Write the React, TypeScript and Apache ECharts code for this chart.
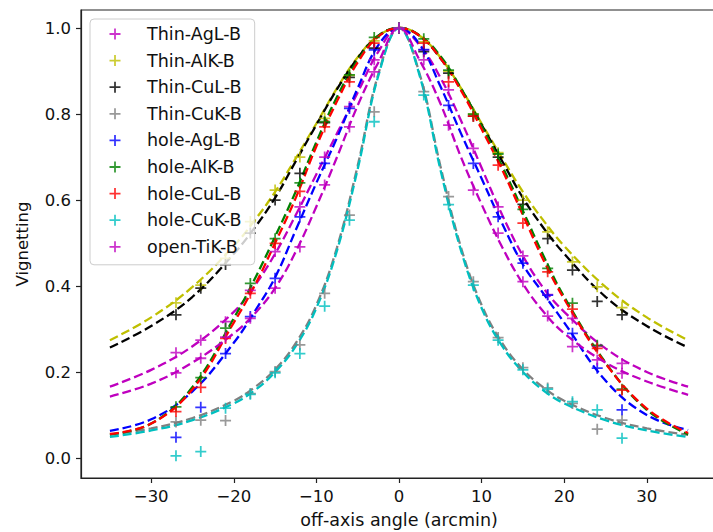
import React, { useEffect, useRef } from "react";
import * as echarts from "echarts";

// ---- data ----
const seriesNames = [
  "Thin-AgL-B",
  "Thin-AlK-B",
  "Thin-CuL-B",
  "Thin-CuK-B",
  "hole-AgL-B",
  "hole-AlK-B",
  "hole-CuL-B",
  "hole-CuK-B",
  "open-TiK-B",
];
const seriesColors = [
  "#bf00bf",
  "#bfbf00",
  "#000000",
  "#808080",
  "#0000ff",
  "#008000",
  "#ff0000",
  "#00bfbf",
  "#bf00bf",
];

// measured points (off-axis angle, arcmin)
const pointX = [-27, -24, -21, -18, -15, -12, -9, -6, -3, 0, 3, 6, 9, 12, 15, 18, 21, 24, 27];
const thinAgLPts = [0.245, 0.274, 0.317, 0.39, 0.48, 0.584, 0.7, 0.817, 0.926, 1.0, 0.949, 0.856, 0.72, 0.584, 0.47, 0.38, 0.325, 0.26, 0.22];
const thinAlKPts = [0.361, 0.402, 0.464, 0.55, 0.623, 0.7, 0.79, 0.89, 0.97, 1.0, 0.968, 0.9, 0.8, 0.71, 0.6, 0.526, 0.456, 0.398, 0.35];
const thinCuLPts = [0.333, 0.395, 0.45, 0.523, 0.6, 0.662, 0.78, 0.885, 0.953, 1.0, 0.945, 0.895, 0.795, 0.7, 0.59, 0.51, 0.437, 0.364, 0.333];
const thinCuKPts = [0.084, 0.088, 0.087, 0.15, 0.201, 0.263, 0.383, 0.565, 0.805, 1.0, 0.852, 0.608, 0.41, 0.28, 0.21, 0.163, 0.127, 0.067, 0.088];
const holeAgLPts = [0.048, 0.118, 0.243, 0.329, 0.418, 0.561, 0.685, 0.813, 0.949, 1.0, 0.95, 0.82, 0.685, 0.561, 0.453, 0.379, 0.29, 0.209, 0.112];
const holeAlKPts = [0.119, 0.187, 0.302, 0.406, 0.51, 0.64, 0.782, 0.891, 0.978, 1.0, 0.975, 0.902, 0.8, 0.707, 0.578, 0.441, 0.36, 0.262, 0.16];
const holeCuLPts = [0.108, 0.164, 0.278, 0.383, 0.499, 0.62, 0.77, 0.875, 0.965, 1.0, 0.965, 0.875, 0.795, 0.681, 0.546, 0.433, 0.346, 0.255, 0.158];
const holeCuKPts = [0.005, 0.015, 0.116, 0.148, 0.198, 0.243, 0.353, 0.553, 0.782, 1.0, 0.844, 0.589, 0.402, 0.274, 0.205, 0.16, 0.131, 0.112, 0.046];
const openTiKPts = [0.198, 0.232, 0.281, 0.325, 0.395, 0.491, 0.635, 0.77, 0.898, 1.0, 0.926, 0.774, 0.623, 0.523, 0.41, 0.33, 0.259, 0.228, 0.197];

// fitted curves (dashed)
const fitX = [-35, -30, -25, -20, -17.5, -15, -12.5, -10, -7.5, -5, -2.5, 0, 2.5, 5, 7.5, 10, 12.5, 15, 17.5, 20, 25, 30, 35];
const thinAgLFit = [0.166, 0.205, 0.26, 0.34, 0.4, 0.475, 0.565, 0.66, 0.755, 0.85, 0.945, 1.0, 0.96, 0.885, 0.785, 0.675, 0.565, 0.47, 0.395, 0.34, 0.255, 0.2, 0.166];
const thinAlKFit = [0.274, 0.327, 0.398, 0.493, 0.552, 0.619, 0.697, 0.778, 0.86, 0.932, 0.982, 1.0, 0.982, 0.932, 0.86, 0.778, 0.697, 0.619, 0.552, 0.493, 0.398, 0.327, 0.274];
const thinCuLFit = [0.257, 0.307, 0.375, 0.475, 0.535, 0.605, 0.69, 0.775, 0.858, 0.93, 0.982, 1.0, 0.982, 0.93, 0.858, 0.775, 0.69, 0.605, 0.535, 0.475, 0.375, 0.307, 0.257];
const thinCuKFit = [0.054, 0.069, 0.093, 0.133, 0.164, 0.206, 0.267, 0.356, 0.49, 0.68, 0.893, 1.0, 0.893, 0.68, 0.49, 0.356, 0.267, 0.206, 0.164, 0.133, 0.093, 0.069, 0.054];
const holeAgLFit = [0.063, 0.09, 0.155, 0.268, 0.34, 0.42, 0.53, 0.64, 0.745, 0.86, 0.96, 1.0, 0.962, 0.865, 0.755, 0.65, 0.545, 0.45, 0.382, 0.315, 0.18, 0.1, 0.065];
const holeAlKFit = [0.055, 0.08, 0.165, 0.325, 0.415, 0.515, 0.62, 0.735, 0.84, 0.925, 0.982, 1.0, 0.983, 0.935, 0.86, 0.772, 0.678, 0.575, 0.47, 0.375, 0.222, 0.112, 0.055];
const holeCuLFit = [0.056, 0.08, 0.16, 0.315, 0.4, 0.5, 0.605, 0.725, 0.83, 0.92, 0.98, 1.0, 0.982, 0.93, 0.855, 0.765, 0.67, 0.565, 0.46, 0.37, 0.22, 0.115, 0.058];
const holeCuKFit = [0.049, 0.064, 0.088, 0.127, 0.157, 0.2, 0.26, 0.349, 0.483, 0.672, 0.889, 1.0, 0.889, 0.672, 0.483, 0.349, 0.26, 0.2, 0.157, 0.127, 0.088, 0.064, 0.049];
const openTiKFit = [0.143, 0.173, 0.222, 0.29, 0.335, 0.395, 0.48, 0.585, 0.7, 0.82, 0.92, 1.0, 0.925, 0.825, 0.7, 0.59, 0.49, 0.405, 0.34, 0.29, 0.222, 0.178, 0.147];

const xTickValues = [-30, -20, -10, 0, 10, 20, 30];
const yTickValues = [0, 0.2, 0.4, 0.6, 0.8, 1.0];
const xAxisTitle = "off-axis angle (arcmin)";
const yAxisTitle = "Vignetting";

const allPts = [thinAgLPts, thinAlKPts, thinCuLPts, thinCuKPts, holeAgLPts, holeAlKPts, holeCuLPts, holeCuKPts, openTiKPts];
const allFits = [thinAgLFit, thinAlKFit, thinCuLFit, thinCuKFit, holeAgLFit, holeAlKFit, holeCuLFit, holeCuKFit, openTiKFit];

const CROSS =
  "path://M4.2,0L5.8,0L5.8,4.2L10,4.2L10,5.8L5.8,5.8L5.8,10L4.2,10L4.2,5.8L0,5.8L0,4.2L4.2,4.2Z";
const FONT = "DejaVu Sans";

export default function App() {
  const ref = useRef<HTMLDivElement>(null);

  useEffect(() => {
    if (!ref.current) return;
    const chart = echarts.init(ref.current, null, { renderer: "svg" });

    const series: any[] = [];
    seriesNames.forEach((name, i) => {
      series.push({
        type: "scatter",
        name,
        data: pointX.map((x, k) => [x, allPts[i][k]]),
        symbol: CROSS,
        symbolSize: 11,
        itemStyle: { color: seriesColors[i] },
        z: 2,
      });
      series.push({
        type: "line",
        name: "fit " + name,
        data: fitX.map((x, k) => [x, allFits[i][k]]),
        smooth: 0.4,
        showSymbol: false,
        symbol: "none",
        lineStyle: { color: seriesColors[i], width: 2.3, type: [9, 4] },
        z: 2,
      });
    });

    const option: any = {
      animation: false,
      backgroundColor: "#ffffff",
      grid: {
        left: 81,
        top: 10,
        width: 636,
        height: 468,
        show: true,
        borderColor: "#222",
        borderWidth: 1.2,
        backgroundColor: "transparent",
        containLabel: false,
        outerBoundsMode: "none",
      },
      legend: {
        orient: "vertical",
        left: 90,
        top: 19,
        data: seriesNames.map((n) => ({ name: n, icon: CROSS })),
        itemWidth: 11,
        itemHeight: 11,
        itemGap: 6.6,
        padding: [5, 13, 8, 19.5],
        backgroundColor: "rgba(255,255,255,0.8)",
        borderColor: "#cccccc",
        borderWidth: 1,
        borderRadius: 4,
        selectedMode: false,
        formatter: (name: string) => "{t|" + name + "}",
        textStyle: {
          fontFamily: FONT,
          fontSize: 17.5,
          color: "#111",
          lineHeight: 20,
          rich: {
            t: {
              fontFamily: FONT,
              fontSize: 17.5,
              color: "#111",
              lineHeight: 20,
              padding: [0, 0, 0, 21.5],
            },
          },
        },
      },
      xAxis: {
        type: "value",
        min: -38.5,
        max: 38.5,
        name: xAxisTitle,
        nameLocation: "middle",
        nameGap: 33,
        nameTextStyle: { fontFamily: FONT, fontSize: 17.5, color: "#111" },
        splitLine: { show: false },
        axisLine: { show: true, onZero: false, lineStyle: { color: "#222", width: 1.2 } },
        axisTick: { show: true, length: 5, customValues: xTickValues, lineStyle: { color: "#222", width: 1.2 } },
        axisLabel: {
          customValues: xTickValues,
          margin: 10,
          fontFamily: FONT,
          fontSize: 16.5,
          color: "#111",
          formatter: (v: number) => (v < 0 ? "\u2212" + Math.abs(v) : String(v)),
        },
      },
      yAxis: {
        type: "value",
        min: -0.0465,
        max: 1.0419,
        name: yAxisTitle,
        nameLocation: "middle",
        nameGap: 50,
        nameTextStyle: { fontFamily: FONT, fontSize: 16.5, color: "#111" },
        splitLine: { show: false },
        axisLine: { show: true, onZero: false, lineStyle: { color: "#222", width: 1.2 } },
        axisTick: { show: true, length: 5, customValues: yTickValues, lineStyle: { color: "#222", width: 1.2 } },
        axisLabel: {
          customValues: yTickValues,
          margin: 10,
          fontFamily: FONT,
          fontSize: 16.5,
          color: "#111",
          formatter: (v: number) => v.toFixed(1),
        },
      },
      series,
    };

    chart.setOption(option);
    return () => chart.dispose();
  }, []);

  return (
    <div
      ref={ref}
      style={{ position: "absolute", left: 0, top: 0, width: 713, height: 532, background: "#fff" }}
    />
  );
}
